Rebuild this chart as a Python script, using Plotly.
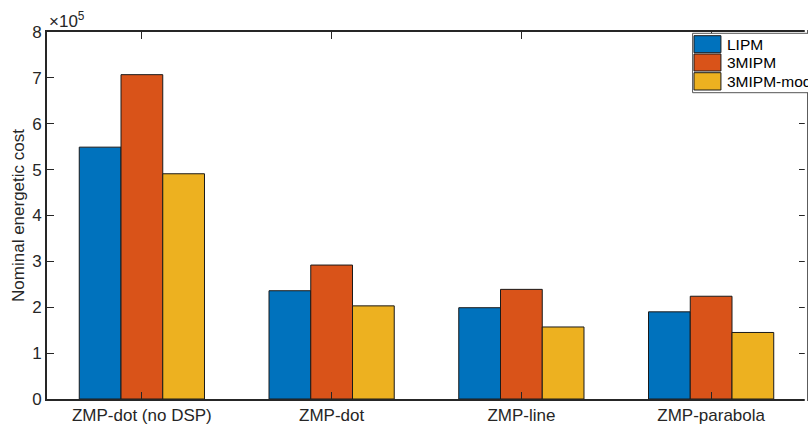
import plotly.graph_objects as go

categories = ["ZMP-dot (no DSP)", "ZMP-dot", "ZMP-line", "ZMP-parabola"]
series_names = ["LIPM", "3MIPM", "3MIPM-mod"]
lipm = [5.49, 2.36, 1.99, 1.90]
mipm3 = [7.07, 2.92, 2.39, 2.24]
mipm3_mod = [4.91, 2.03, 1.57, 1.45]
series_values = [lipm, mipm3, mipm3_mod]
colors = ["#0072BD", "#D95319", "#EDB120"]
y_ticks = [0, 1, 2, 3, 4, 5, 6, 7, 8]

W, H = 808, 426
L, R, T, B = 47, 0, 32, 27
FONT = "Liberation Sans, Arial, sans-serif"
AX = "#262626"


def px_x(p):
    return (p - L) / (W - L - R)


def px_y(p):
    return (H - B - p) / (H - B - T)


fig = go.Figure()
for name, vals, col in zip(series_names, series_values, colors):
    fig.add_trace(go.Bar(
        x=categories, y=vals, name=name, showlegend=False,
        marker=dict(color=col, line=dict(color="#1a1a1a", width=1)),
    ))

shapes = []
annotations = []
# hide right spine (it lies just outside the reference crop)
shapes.append(dict(type="line", xref="paper", yref="paper", x0=1, x1=1, y0=-0.01, y1=1.01,
                   line=dict(color="white", width=2.5), layer="above"))
# legend box
shapes.append(dict(type="rect", xref="paper", yref="paper",
                   x0=px_x(694.3), x1=px_x(830), y0=px_y(92.7), y1=px_y(33.3),
                   fillcolor="white", line=dict(color="#555555", width=1), layer="above"))
rows = [(35.7, 52.7), (54.0, 71.0), (72.7, 90.0)]
for (ya, yb), name, col in zip(rows, series_names, colors):
    shapes.append(dict(type="rect", xref="paper", yref="paper",
                       x0=px_x(695.7), x1=px_x(722.7), y0=px_y(yb), y1=px_y(ya),
                       fillcolor=col, line=dict(color="#1a1a1a", width=1), layer="above"))
    annotations.append(dict(xref="paper", yref="paper", x=px_x(726.5), y=px_y((ya + yb) / 2),
                            xanchor="left", yanchor="middle", text=name, showarrow=False,
                            font=dict(family=FONT, size=15.5, color="#000000")))

# exponent label
annotations.append(dict(xref="paper", yref="paper", x=px_x(47), y=px_y(31), yshift=-2,
                        xanchor="left", yanchor="bottom", text="×10<sup>5</sup>",
                        showarrow=False, font=dict(family=FONT, size=17, color=AX)))

fig.update_layout(
    width=W, height=H,
    margin=dict(l=L, r=R, t=T, b=B, pad=0),
    paper_bgcolor="white", plot_bgcolor="white",
    barmode="group", bargap=0.34, bargroupgap=0,
    font=dict(family=FONT, size=17, color=AX),
    shapes=shapes, annotations=annotations,
    showlegend=False,
)
fig.update_xaxes(
    range=[-0.5, 3.5], showline=True, linecolor=AX, linewidth=2, mirror="ticks",
    ticks="inside", ticklen=7, tickwidth=1, tickcolor=AX, showgrid=False,
    tickfont=dict(family=FONT, size=17, color=AX), zeroline=False,
)
fig.update_yaxes(
    range=[0, 8], tickvals=y_ticks, ticktext=[str(v) for v in y_ticks],
    showline=True, linecolor=AX, linewidth=2, mirror="ticks",
    ticks="inside", ticklen=7, tickwidth=1, tickcolor=AX, showgrid=False,
    tickfont=dict(family=FONT, size=17, color=AX), zeroline=False,
    title=dict(text="Nominal energetic cost", font=dict(family=FONT, size=17, color=AX), standoff=3),
)

fig.write_html("out.html", config={"displayModeBar": False},
               post_script="document.body.style.margin='0px';")
